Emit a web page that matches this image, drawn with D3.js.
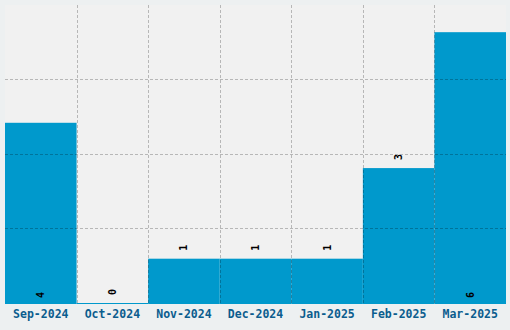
<!DOCTYPE html>
<html>
<head>
<meta charset="utf-8">
<script src="https://cdn.jsdelivr.net/npm/d3@7"></script>
<style>
  body { margin: 0; background: #edf0f1; }
  svg { display: block; }
</style>
</head>
<body>
<svg id="chart" width="510" height="330"></svg>
<script>
const months = ["Sep-2024", "Oct-2024", "Nov-2024", "Dec-2024", "Jan-2025", "Feb-2025", "Mar-2025"];
const counts = [4, 0, 1, 1, 1, 3, 6];

const width = 510,
  height = 330;
const margin = { top: 5, right: 4, bottom: 26, left: 5 };

const svg = d3.select("#chart");
const plotW = width - margin.left - margin.right;
const plotH = height - margin.top - margin.bottom;

const yMax = d3.max(counts) * 1.1;

const x = d3.scaleBand().domain(months).range([0, plotW]).padding(0);
const y = d3.scaleLinear().domain([0, yMax]).range([plotH, 0]);

const g = svg.append("g").attr("transform", `translate(${margin.left},${margin.top})`);

g.append("rect")
  .attr("width", plotW)
  .attr("height", plotH)
  .attr("fill", "#f1f1f1");

// bars
g.selectAll("rect.bar")
  .data(months)
  .enter()
  .append("rect")
  .attr("class", "bar")
  .attr("x", (d) => x(d))
  .attr("width", x.bandwidth())
  .attr("y", (d, i) => Math.min(y(counts[i]), plotH - 1))
  .attr("height", (d, i) => Math.max(plotH - y(counts[i]), 1))
  .attr("fill", "#0099cc");

// grid, drawn over the bars
const gridVals = [1, 2, 3].map((i) => (yMax / 4) * i);
g.selectAll("line.hgrid")
  .data(gridVals)
  .enter()
  .append("line")
  .attr("x1", 0)
  .attr("x2", plotW)
  .attr("y1", (d) => Math.round(y(d)) - 0.5)
  .attr("y2", (d) => Math.round(y(d)) - 0.5)
  .attr("stroke", "rgba(0,0,0,0.24)")
  .attr("stroke-dasharray", "3,2");

g.selectAll("line.vgrid")
  .data(months.slice(1))
  .enter()
  .append("line")
  .attr("x1", (d) => Math.round(x(d)) + 0.5)
  .attr("x2", (d) => Math.round(x(d)) + 0.5)
  .attr("y1", 0)
  .attr("y2", plotH)
  .attr("stroke", "rgba(0,0,0,0.24)")
  .attr("stroke-dasharray", "3,2");

// value labels
g.selectAll("text.val")
  .data(months)
  .enter()
  .append("text")
  .attr("class", "val")
  .attr("transform", (d, i) => {
    const cx = x(d) + x.bandwidth() / 2;
    const ly = counts[i] >= 4 ? plotH - 6 : Math.min(y(counts[i]), plotH - 1) - 8;
    return `translate(${cx + 3.5},${ly}) rotate(-90)`;
  })
  .attr("font-family", "DejaVu Sans Mono, monospace")
  .attr("font-weight", "bold")
  .attr("font-size", 10)
  .attr("fill", "#000")
  .text((d, i) => counts[i]);

// x axis labels
const xAxis = g
  .append("g")
  .attr("transform", `translate(0,${plotH})`)
  .call(d3.axisBottom(x).tickSize(0).tickPadding(6));
xAxis.select(".domain").remove();
xAxis
  .selectAll("text")
  .attr("font-family", "DejaVu Sans Mono, monospace")
  .attr("font-weight", "bold")
  .attr("font-size", 11.5)
  .attr("fill", "#0b5d8e");
</script>
</body>
</html>
